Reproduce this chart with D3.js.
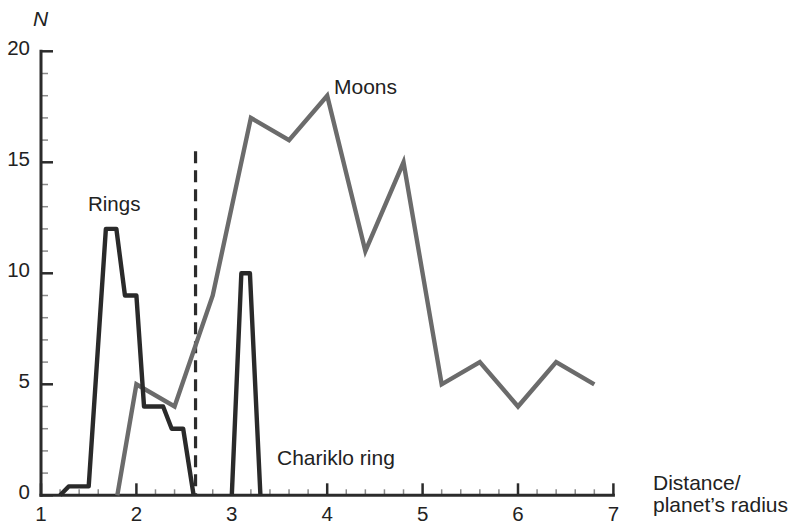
<!DOCTYPE html>
<html>
<head>
<meta charset="utf-8">
<script src="https://cdn.jsdelivr.net/npm/d3@7"></script>
<style>
  html, body { margin: 0; padding: 0; background: #fff; }
  svg { display: block; }
  text { font-family: "Liberation Sans", Arial, Helvetica, sans-serif; fill: #222; }
</style>
</head>
<body>
<svg id="chart" width="792" height="526"></svg>
<script>
// ---- Data ----
const ringsX = [1.2, 1.29, 1.5, 1.68, 1.79, 1.88, 2.0, 2.08, 2.28, 2.37, 2.49, 2.6];
const ringsN = [0, 0.4, 0.4, 12, 12, 9, 9, 4, 4, 3, 3, 0];
const charikloX = [3.0, 3.1, 3.19, 3.3];
const charikloN = [0, 10, 10, 0];
const moonsX = [1.8, 2.0, 2.4, 2.8, 3.2, 3.6, 4.0, 4.4, 4.8, 5.2, 5.6, 6.0, 6.4, 6.8];
const moonsN = [0, 5, 4, 9, 17, 16, 18, 11, 15, 5, 6, 4, 6, 5];
const dashedLineX = 2.62;
const dashedLineTop = 15.5;
const xTicks = [1, 2, 3, 4, 5, 6, 7];
const yTicks = [0, 5, 10, 15, 20];

// ---- Layout ----
const svg = d3.select("#chart");
const x = d3.scaleLinear().domain([1, 7]).range([41, 613.4]);
const y = d3.scaleLinear().domain([0, 20]).range([495.3, 51.3]);
const axisColor = "#2b2b2b";

const xMinor = d3.range(1, 7.0001, 0.2).filter(v => Math.abs(v - Math.round(v)) > 1e-6);
const yMinor = d3.range(0, 20.0001, 1).filter(v => v % 5 !== 0);

const g = svg.append("g");

g.selectAll(".xminor").data(xMinor).enter().append("line")
  .attr("x1", d => x(d)).attr("x2", d => x(d))
  .attr("y1", y(0)).attr("y2", y(0) - 6)
  .attr("stroke", "#8a8a8a").attr("stroke-width", 1.5);
g.selectAll(".xmajor").data(xTicks).enter().append("line")
  .attr("x1", d => x(d)).attr("x2", d => x(d))
  .attr("y1", y(0)).attr("y2", y(0) - 12)
  .attr("stroke", axisColor).attr("stroke-width", 2.5);
g.selectAll(".yminor").data(yMinor).enter().append("line")
  .attr("x1", x(1)).attr("x2", x(1) + 7)
  .attr("y1", d => y(d)).attr("y2", d => y(d))
  .attr("stroke", "#8a8a8a").attr("stroke-width", 1.5);
g.selectAll(".ymajor").data(yTicks).enter().append("line")
  .attr("x1", x(1)).attr("x2", x(1) + 12)
  .attr("y1", d => y(d)).attr("y2", d => y(d))
  .attr("stroke", axisColor).attr("stroke-width", 2.5);

g.append("line").attr("x1", x(1)).attr("x2", x(7)).attr("y1", y(0)).attr("y2", y(0))
  .attr("stroke", axisColor).attr("stroke-width", 3).attr("stroke-linecap", "square");
g.append("line").attr("x1", x(1)).attr("x2", x(1)).attr("y1", y(0)).attr("y2", y(20))
  .attr("stroke", axisColor).attr("stroke-width", 3).attr("stroke-linecap", "square");

g.selectAll(".xlab").data(xTicks).enter().append("text")
  .attr("x", d => x(d)).attr("y", y(0) + 26)
  .attr("text-anchor", "middle").attr("font-size", 20.5).text(d => d);
g.selectAll(".ylab").data(yTicks).enter().append("text")
  .attr("x", 30).attr("y", d => y(d) + 4)
  .attr("text-anchor", "end").attr("font-size", 20.5).text(d => d);

g.append("line").attr("x1", x(dashedLineX)).attr("x2", x(dashedLineX))
  .attr("y1", y(dashedLineTop)).attr("y2", y(0))
  .attr("stroke", axisColor).attr("stroke-width", 3.2).attr("stroke-dasharray", "12,7");

const line = d3.line().x(d => x(d[0])).y(d => y(d[1]));

g.append("path").datum(d3.zip(moonsX, moonsN))
  .attr("d", line).attr("fill", "none")
  .attr("stroke", "#6b6b6b").attr("stroke-width", 4.4).attr("stroke-linejoin", "miter");

g.append("path").datum(d3.zip(ringsX, ringsN))
  .attr("d", line).attr("fill", "none")
  .attr("stroke", "#2a2a2a").attr("stroke-width", 4.4).attr("stroke-linejoin", "round");
g.append("path").datum(d3.zip(charikloX, charikloN))
  .attr("d", line).attr("fill", "none")
  .attr("stroke", "#2a2a2a").attr("stroke-width", 4.4).attr("stroke-linejoin", "round");

g.append("text").attr("x", 33).attr("y", 25.5).attr("font-size", 21)
  .attr("font-style", "italic").text("N");
g.append("text").attr("x", 88).attr("y", 210.5).attr("font-size", 20.5).text("Rings");
g.append("text").attr("x", 334).attr("y", 93.5).attr("font-size", 21).text("Moons");
g.append("text").attr("x", 277).attr("y", 464.5).attr("font-size", 21).text("Chariklo ring");
g.append("text").attr("x", 653).attr("y", 490).attr("font-size", 21).text("Distance/");
g.append("text").attr("x", 653).attr("y", 512).attr("font-size", 21).text("planet\u2019s radius");
</script>
</body>
</html>
